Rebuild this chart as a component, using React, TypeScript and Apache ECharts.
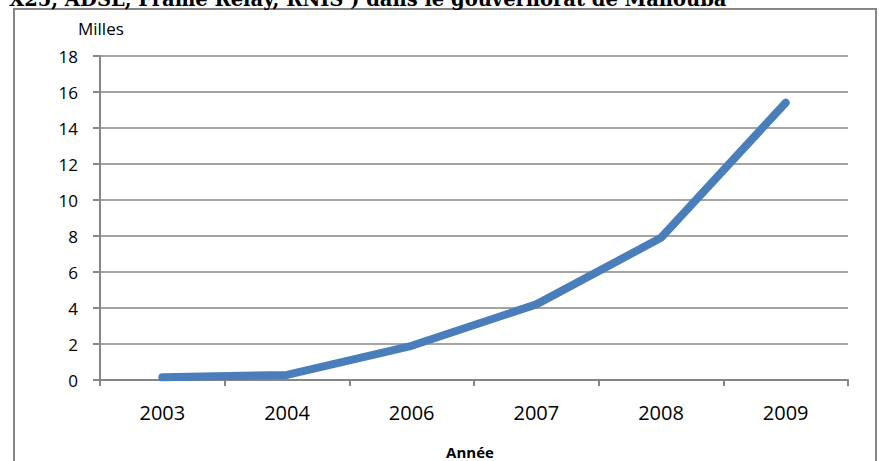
import React, { useEffect, useRef } from "react";
import * as echarts from "echarts";

const categories = ["2003", "2004", "2006", "2007", "2008", "2009"];
const values = [0.15, 0.28, 1.9, 4.2, 7.9, 15.4];
const titleText = "X25, ADSL, Frame Relay, RNIS ) dans le gouvernorat de Manouba";
const yUnit = "Milles";
const xName = "Année";

export default function App() {
  const ref = useRef<HTMLDivElement>(null);
  useEffect(() => {
    if (!ref.current) return;
    const chart = echarts.init(ref.current, null, { renderer: "svg" });
    const gray = "#868686";
    chart.setOption({
      animation: false,
      backgroundColor: "#ffffff",
      grid: { left: 100, right: 31, top: 56, bottom: 81 },
      xAxis: {
        type: "category",
        data: categories,
        boundaryGap: true,
        axisLine: { lineStyle: { color: gray, width: 2 } },
        axisTick: { show: true, length: 6, lineStyle: { color: gray, width: 2 } },
        axisLabel: {
          color: "#000",
          fontFamily: "Open Sans",
          fontSize: 20,
          margin: 22,
        },
        splitLine: { show: false },
      },
      yAxis: {
        type: "value",
        min: 0,
        max: 18,
        interval: 2,
        axisLine: { show: true, lineStyle: { color: gray, width: 2 } },
        axisTick: { show: true, length: 7, lineStyle: { color: gray, width: 2 } },
        axisLabel: {
          color: "#000",
          fontFamily: "Open Sans",
          fontSize: 17,
          margin: 22,
        },
        splitLine: { show: true, lineStyle: { color: gray, width: 1.5 } },
      },
      series: [
        {
          type: "line",
          data: values,
          symbol: "none",
          lineStyle: { color: "#4a7ebb", width: 8, cap: "round", join: "round" },
          z: 3,
        },
      ],
      graphic: [
        {
          type: "rect",
          shape: { x: 14, y: 9, width: 862, height: 480 },
          style: { fill: "none", stroke: gray, lineWidth: 2 },
          z: 0,
          silent: true,
        },
        {
          type: "text",
          x: 9,
          y: 9,
          style: {
            text: titleText,
            font: "bold 19.5px 'DejaVu Serif'",
            fill: "#000",
            verticalAlign: "bottom",
            align: "left",
          },
        },
        {
          type: "text",
          x: 78,
          y: 28,
          style: {
            text: yUnit,
            font: "17px 'Open Sans'",
            fill: "#000",
            verticalAlign: "middle",
            align: "left",
          },
        },
        {
          type: "text",
          x: 470,
          y: 452,
          style: {
            text: xName,
            font: "bold 15px 'Open Sans'",
            fill: "#000",
            verticalAlign: "middle",
            align: "center",
          },
        },
      ],
    });
    return () => chart.dispose();
  }, []);
  return (
    <div
      ref={ref}
      style={{ position: "fixed", left: 0, top: 0, width: 879, height: 461 }}
    />
  );
}
